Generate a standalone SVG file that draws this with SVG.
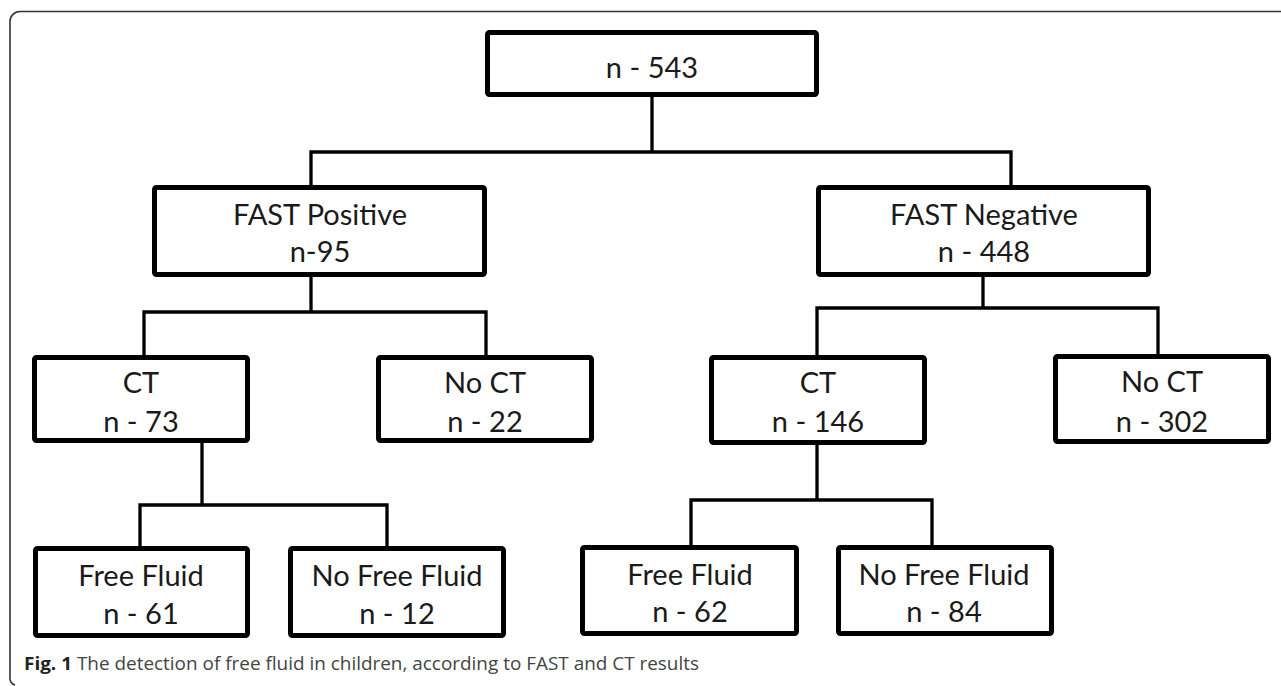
<svg xmlns="http://www.w3.org/2000/svg" width="1281" height="686" viewBox="0 0 1281 686">
<style>
.box{fill:#fff;stroke:#000;stroke-width:5;stroke-linejoin:round}
.con{fill:none;stroke:#000;stroke-width:3.3;stroke-linejoin:round;stroke-linecap:square}
.t{font-family:Lato,"Open Sans","Liberation Sans",sans-serif;font-size:29px;fill:#1a1a1a;text-anchor:middle}
.cap{font-family:"Open Sans","Liberation Sans",sans-serif;font-size:18px;fill:#444}
</style>
<rect width="1281" height="686" fill="#fff"/>
<path d="M1281,11.5 H20 A10,10 0 0 0 10,21.5 V677 A7,7 0 0 0 15,685" fill="none" stroke="#333" stroke-width="1.6"/>
<g id="connectors">
<path class="con" d="M652,97 V152 M311,152 H1011 M311,152 V185 M1011,152 V185"/>
<path class="con" d="M311,277 V312 M144,312 H486 M144,312 V355 M486,312 V355"/>
<path class="con" d="M983,277 V308 M817,308 H1158 M817,308 V355 M1158,308 V355"/>
<path class="con" d="M202,443 V505 M140,505 H387 M140,505 V546 M387,505 V546"/>
<path class="con" d="M817,445 V500 M691,500 H932 M691,500 V545 M932,500 V545"/>
</g>
<g id="root"><rect class="box" x="487.5" y="32.5" width="329" height="62" rx="2"/><text class="t" x="652" y="78">n - 543</text></g>
<g id="fast-positive"><rect class="box" x="154.5" y="187.5" width="330" height="87" rx="2"/><text class="t" x="320" y="225">FAST Positive</text><text class="t" x="320" y="262">n-95</text></g>
<g id="fast-negative"><rect class="box" x="818.5" y="187.5" width="330" height="87" rx="2"/><text class="t" x="984" y="225">FAST Negative</text><text class="t" x="984" y="262">n - 448</text></g>
<g id="ct-left"><rect class="box" x="34.5" y="357.5" width="213" height="83" rx="2"/><text class="t" x="141" y="393">CT</text><text class="t" x="141" y="432">n - 73</text></g>
<g id="noct-left"><rect class="box" x="378.5" y="357.5" width="213" height="83" rx="2"/><text class="t" x="485" y="393">No CT</text><text class="t" x="485" y="432">n - 22</text></g>
<g id="ct-right"><rect class="box" x="711.5" y="357.5" width="213" height="85" rx="2"/><text class="t" x="818" y="393">CT</text><text class="t" x="818" y="432">n - 146</text></g>
<g id="noct-right"><rect class="box" x="1055.5" y="356.5" width="213" height="85" rx="2"/><text class="t" x="1162" y="392">No CT</text><text class="t" x="1162" y="432">n - 302</text></g>
<g id="ff-left"><rect class="box" x="35.5" y="548.5" width="212" height="87" rx="2"/><text class="t" x="141" y="586">Free Fluid</text><text class="t" x="141" y="624">n - 61</text></g>
<g id="nff-left"><rect class="box" x="290.5" y="548.5" width="213" height="87" rx="2"/><text class="t" x="397" y="586">No Free Fluid</text><text class="t" x="397" y="624">n - 12</text></g>
<g id="ff-right"><rect class="box" x="582.5" y="547.5" width="214" height="86" rx="2"/><text class="t" x="690" y="585">Free Fluid</text><text class="t" x="690" y="622">n - 62</text></g>
<g id="nff-right"><rect class="box" x="838.5" y="547.5" width="213" height="86" rx="2"/><text class="t" x="944" y="585">No Free Fluid</text><text class="t" x="944" y="622">n - 84</text></g>
<text class="cap" x="24" y="670" textLength="675" lengthAdjust="spacingAndGlyphs"><tspan font-weight="bold" fill="#222">Fig. 1</tspan> The detection of free fluid in children, according to FAST and CT results</text>
</svg>
